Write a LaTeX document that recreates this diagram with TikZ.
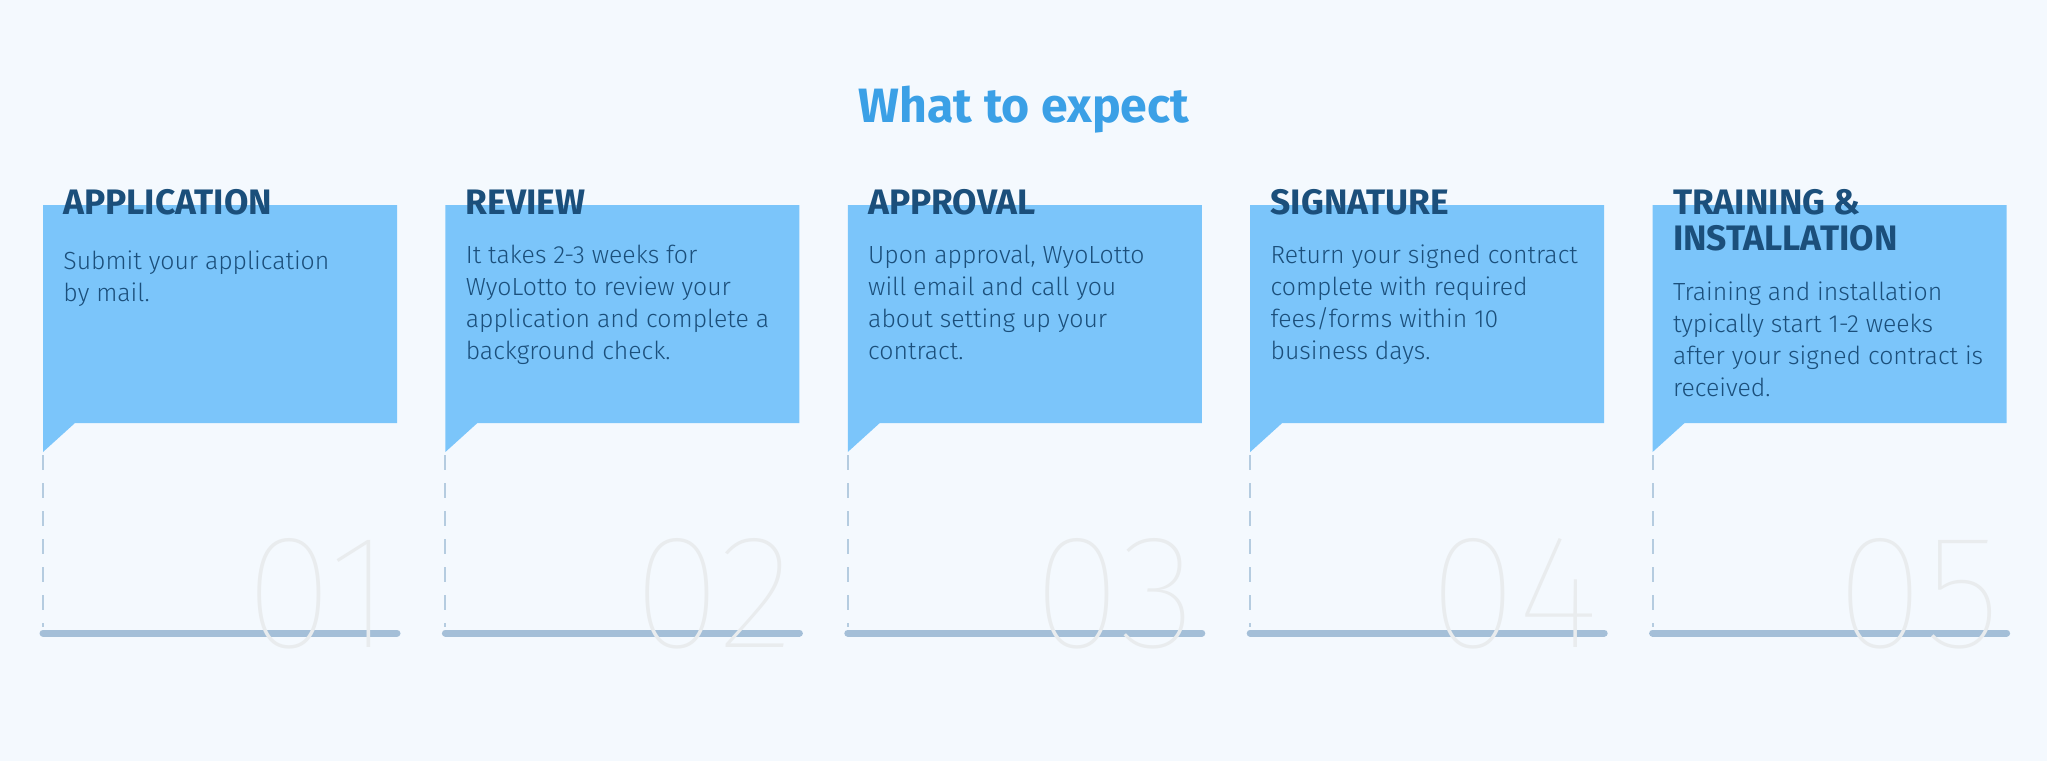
\documentclass[tikz,border=0pt]{standalone}
\usepackage{fontspec}
\setmainfont{Fira Sans}
\IfFontExistsTF{Fira Sans Light}{\newfontfamily\bodyfont{Fira Sans Light}}{\newfontfamily\bodyfont{Fira Sans}}
\IfFontExistsTF{Fira Sans Thin}{\newfontfamily\numfont{Fira Sans Thin}}{\IfFontExistsTF{Fira Sans ExtraLight}{\newfontfamily\numfont{Fira Sans ExtraLight}}{\newfontfamily\numfont{Fira Sans}}}

\definecolor{pagebg}{HTML}{F4F9FE}
\definecolor{cardblue}{HTML}{7BC5FA}
\definecolor{titleblue}{HTML}{3BA0E6}
\definecolor{inkblue}{HTML}{1B4F7B}
\definecolor{barblue}{HTML}{A4BFD8}
\definecolor{dashblue}{HTML}{B5CCE0}
\definecolor{numgray}{HTML}{E9ECEE}

\tikzset{
	title/.style={anchor=base, inner sep=0, text=titleblue, font=\bfseries\fontsize{24.1}{24.1}\selectfont},
	head/.style={anchor=base west, inner sep=0, text=inkblue, font=\bfseries\fontsize{17.7}{18.4}\selectfont},
	body/.style={anchor=base west, inner sep=0, text=inkblue, font=\bodyfont\fontsize{12.4}{16}\selectfont},
	num/.style={anchor=base east, inner sep=0, text=numgray, font=\numfont\fontsize{81}{81}\selectfont},
	bar/.style={draw=barblue, line width=3.5pt, line cap=round},
	drop/.style={draw=dashblue, line width=1pt, dash pattern=on 7.5pt off 6.5pt}
}

\begin{document}
\begin{tikzpicture}
	[x=0.5pt, y=-0.5pt]
	\fill[pagebg] (0,0) rectangle (2047,761);
	\node[title] (title) at (1024,122) {What to expect};
	\foreach \i/\head/\text/\by in
	{	0/{APPLICATION}/{Submit your application\\by mail.}/269,
		1/{REVIEW}/{It takes 2-3 weeks for\\WyoLotto to review your\\application and complete a\\background check.}/263,
		2/{APPROVAL}/{Upon approval, WyoLotto\\will email and call you\\about setting up your\\contract.}/263,
		3/{SIGNATURE}/{Return your signed contract\\complete with required\\fees/forms within 10\\business days.}/263,
		4/{TRAINING \&\\INSTALLATION}/{Training and installation\\typically start 1-2 weeks\\after your signed contract is\\received.}/300}
	{	\pgfmathsetmacro\L{43+402.4*\i}
		\pgfmathtruncatemacro\n{\i+1}
		\fill[cardblue] (\L,205) -- ++(354,0) -- ++(0,218) -- (\L+32,423) -- (\L,452) -- cycle;
		\coordinate (tail\n) at (\L,455);
		\coordinate (foot\n) at (\L,627);
		\draw[drop] (tail\n) -- (foot\n);
		\coordinate (barL\n) at (\L,633);
		\coordinate (barR\n) at (\L+354,633);
		\draw[bar] (barL\n) -- (barR\n);
		\node[num] (num\n) at (\L+349,647) {0\n};
		\node[head] (head\n) at (\L+20,214) {\parbox[t]{170pt}{\raggedright\head}};
		\node[body] (body\n) at (\L+20,\by) {\parbox[t]{170pt}{\raggedright\text}};
		}
	\end{tikzpicture}
\end{document}
